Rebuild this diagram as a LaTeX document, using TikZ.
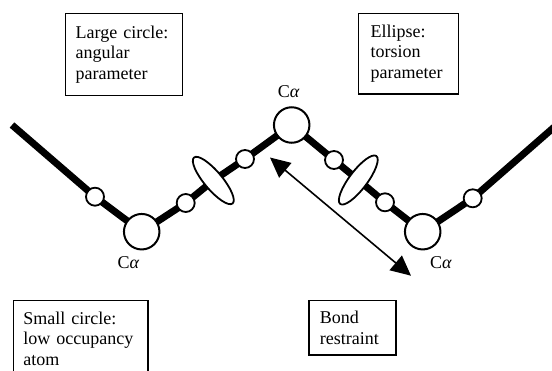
\documentclass[tikz,border=0pt]{standalone}
\usepackage{fontspec}
\setmainfont{Liberation Serif}
\usetikzlibrary{arrows.meta,shapes.geometric,backgrounds}
\begin{document}
\begin{tikzpicture}[x=1pt,y=1pt,
 bigatom/.style={circle,draw,fill=white,line width=2pt,minimum size=35.5pt,inner sep=0pt},
 smallatom/.style={circle,draw,fill=white,line width=1.8pt,minimum size=18pt,inner sep=0pt},
 torsion/.style={ellipse,draw,fill=white,line width=1.8pt,minimum width=60pt,minimum height=18pt,inner sep=0pt},
 bond/.style={line width=7pt,line join=round},
 labelbox/.style={draw,line width=1.3pt,anchor=north west,align=left,font=\fontsize{18}{20.8}\selectfont,inner ysep=0pt},
 calabel/.style={font=\fontsize{18}{20.8}\selectfont,inner sep=0pt},
 restraint/.style={line width=1.6pt,{Triangle[length=20pt,width=19pt]}-{Triangle[length=20pt,width=19pt]}}
]
\useasboundingbox (0,0) rectangle (552,-370);
\clip (0,0) rectangle (552,-370);

% atoms
\node[bigatom] (ca1) at (141.7,-231.7) {};
\node[bigatom] (ca2) at (291.7,-125) {};
\node[bigatom] (ca3) at (422.7,-231.7) {};
\node[smallatom] (s1) at (95,-196.7) {};
\node[smallatom] (s2) at (185.7,-203) {};
\node[smallatom] (s3) at (245,-159) {};
\node[smallatom] (s4) at (334,-160) {};
\node[smallatom] (s5) at (385,-202.3) {};
\node[smallatom] (s6) at (472.7,-198.3) {};
\node[torsion,rotate=-50] (e1) at (213.3,-180.5) {};
\node[torsion,rotate=53] (e2) at (358.3,-180) {};
\coordinate (endL) at (12,-125);
\coordinate (endR) at (560,-122);

\begin{scope}[on background layer]
\draw[bond] (endL) -- (s1.center) -- (ca1.center) -- (s2.center) -- (e1.center) -- (s3.center) -- (ca2.center)
  -- (s4.center) -- (e2.center) -- (s5.center) -- (ca3.center) -- (s6.center) -- (endR);
\end{scope}

% C alpha labels
\node[calabel] (l1) at (128.5,-262.3) {C\textit{α}};
\node[calabel] (l2) at (288.7,-91.7) {C\textit{α}};
\node[calabel] (l3) at (441,-262.5) {C\textit{α}};

% bond restraint arrow
\coordinate (a1) at (270,-157.5);
\coordinate (a2) at (411,-275.7);
\draw[restraint] (a1) -- (a2);

% boxes
\node[labelbox,text width=96.7pt,inner xsep=10pt,minimum height=82.3pt] (b1) at (65,-12.7)
  {Large circle:\\angular\\parameter};
\node[labelbox,text width=75.4pt,inner xsep=12.3pt,minimum height=80.6pt] (b2) at (357.7,-12.7)
  {Ellipse:\\torsion\\parameter};
\node[labelbox,text width=114.6pt,inner xsep=10pt,minimum height=76pt] (b3) at (12.7,-300)
  {Small circle:\\low occupancy\\atom};
\node[labelbox,text width=65pt,inner xsep=11pt,minimum height=54.3pt] (b4) at (308.3,-300)
  {Bond\\restraint};
\end{tikzpicture}
\end{document}
